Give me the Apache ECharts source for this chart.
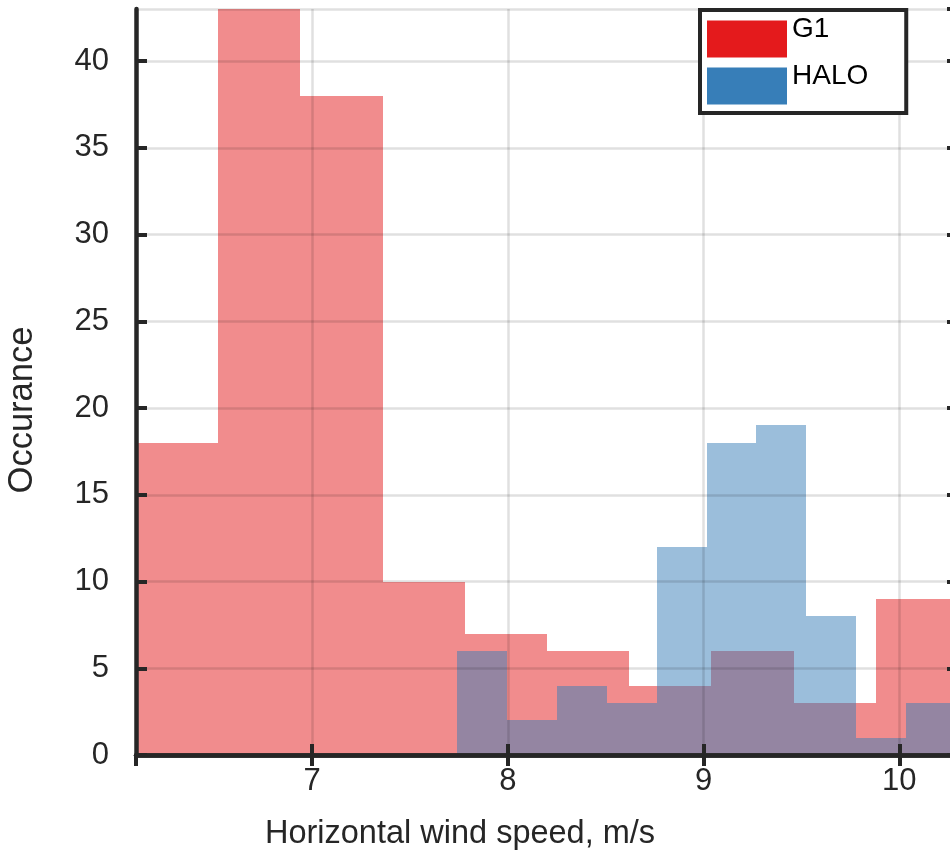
<!DOCTYPE html>
<html>
<head>
<meta charset="utf-8">
<script src="https://cdn.jsdelivr.net/npm/echarts@6/dist/echarts.min.js"></script>
<style>
html,body{margin:0;padding:0;background:#fff;}
#chart{width:950px;height:858px;}
</style>
</head>
<body>
<div id="chart"></div>
<script>
// Histogram bin edges and counts
var g1Edges = [6.10, 6.52, 6.94, 7.36, 7.78, 8.20, 8.62, 9.04, 9.46, 9.88, 10.30];
var g1Counts = [18, 46, 38, 10, 7, 6, 4, 6, 3, 9];
var haloEdges = [7.74, 7.995, 8.25, 8.505, 8.76, 9.015, 9.27, 9.525, 9.78, 10.035, 10.29];
var haloCounts = [6, 2, 4, 3, 12, 18, 19, 8, 1, 3];
var seriesNames = ['G1', 'HALO'];
var xTitle = 'Horizontal wind speed, m/s';
var yTitle = 'Occurance';

var FONT = '"Liberation Sans", Arial, Helvetica, sans-serif';
var INK = '#262626';
var RED = '#E41A1C';
var BLUE = '#377EB8';

function toBins(edges, counts) {
  var out = [];
  for (var i = 0; i < counts.length; i++) out.push([edges[i], edges[i + 1], counts[i]]);
  return out;
}

function makeRender(color) {
  return function (params, api) {
    var p0 = api.coord([api.value(0), api.value(2)]);
    var p1 = api.coord([api.value(1), 0]);
    var x0 = Math.round(p0[0]), x1 = Math.round(p1[0]);
    var y0 = Math.round(p0[1]), y1 = Math.round(p1[1]);
    var cs = params.coordSys;
    var rect = echarts.graphic.clipRectByRect(
      { x: x0, y: y0, width: x1 - x0, height: y1 - y0 },
      { x: cs.x, y: cs.y, width: cs.width, height: cs.height }
    );
    if (!rect) return;
    return { type: 'rect', shape: rect, style: { fill: color, opacity: 0.5 } };
  };
}

var chart = echarts.init(document.getElementById('chart'), null, { renderer: 'canvas' });

var axisLineStyle = { show: true, lineStyle: { color: INK, width: 4.5 } };
var tickStyle = { show: true, inside: true, length: 11, lineStyle: { color: INK, width: 4 } };
var gridLine = { show: true, lineStyle: { color: 'rgba(0,0,0,0.12)', width: 2.5 } };

chart.setOption({
  animation: false,
  backgroundColor: '#fff',
  textStyle: { fontFamily: FONT },
  grid: { left: 136, top: 9, width: 822, height: 746, containLabel: false, outerBoundsMode: 'none' },
  legend: {
    left: 700, top: 10, orient: 'vertical',
    padding: [5, 38, 3, 7],
    itemWidth: 80, itemHeight: 37, itemGap: -1,
    borderColor: INK, borderWidth: 4, backgroundColor: '#fff',
    borderRadius: 0,
    selectedMode: false,
    formatter: function (name) { return name + '\n '; },
    textStyle: { fontFamily: FONT, fontSize: 28, color: '#000', lineHeight: 20 },
    data: [
      { name: seriesNames[0], icon: 'rect', itemStyle: { color: RED, opacity: 1 } },
      { name: seriesNames[1], icon: 'rect', itemStyle: { color: BLUE, opacity: 1 } }
    ],
    z: 10
  },
  xAxis: [
    {
      type: 'value', position: 'bottom', min: 6.1, max: 10.3,
      axisLine: axisLineStyle, axisTick: tickStyle,
      axisLabel: { show: true, color: INK, fontSize: 31, fontFamily: FONT, margin: 11, showMinLabel: false, showMaxLabel: false },
      splitLine: gridLine,
      name: xTitle, nameLocation: 'middle', nameGap: 63,
      nameTextStyle: { color: INK, fontSize: 32.5, fontFamily: FONT, padding: [0, 174, 0, 0] },
      z: 5
    },
    {
      type: 'value', position: 'top', min: 6.1, max: 10.3,
      axisLine: axisLineStyle, axisTick: tickStyle,
      axisLabel: { show: false }, splitLine: { show: false },
      z: 5
    }
  ],
  yAxis: [
    {
      type: 'value', position: 'left', min: 0, max: 43, interval: 5,
      axisLine: axisLineStyle, axisTick: tickStyle,
      axisLabel: { show: true, color: INK, fontSize: 31, fontFamily: FONT, margin: 27, showMaxLabel: false },
      splitLine: gridLine,
      name: yTitle, nameLocation: 'middle', nameGap: 96, nameRotate: 90,
      nameTextStyle: { color: INK, fontSize: 34.5, fontFamily: FONT, padding: [0, 56, 0, 0] },
      z: 5
    },
    {
      type: 'value', position: 'right', min: 0, max: 43, interval: 5,
      axisLine: axisLineStyle, axisTick: tickStyle,
      axisLabel: { show: false }, splitLine: { show: false },
      z: 5
    }
  ],
  series: [
    {
      name: seriesNames[0], type: 'custom', xAxisIndex: 0, yAxisIndex: 0,
      renderItem: makeRender(RED),
      itemStyle: { color: RED },
      encode: { x: [0, 1], y: 2 },
      data: toBins(g1Edges, g1Counts),
      z: 2
    },
    {
      name: seriesNames[1], type: 'custom', xAxisIndex: 0, yAxisIndex: 0,
      renderItem: makeRender(BLUE),
      itemStyle: { color: BLUE },
      encode: { x: [0, 1], y: 2 },
      data: toBins(haloEdges, haloCounts),
      z: 3
    }
  ]
});
</script>
</body>
</html>
